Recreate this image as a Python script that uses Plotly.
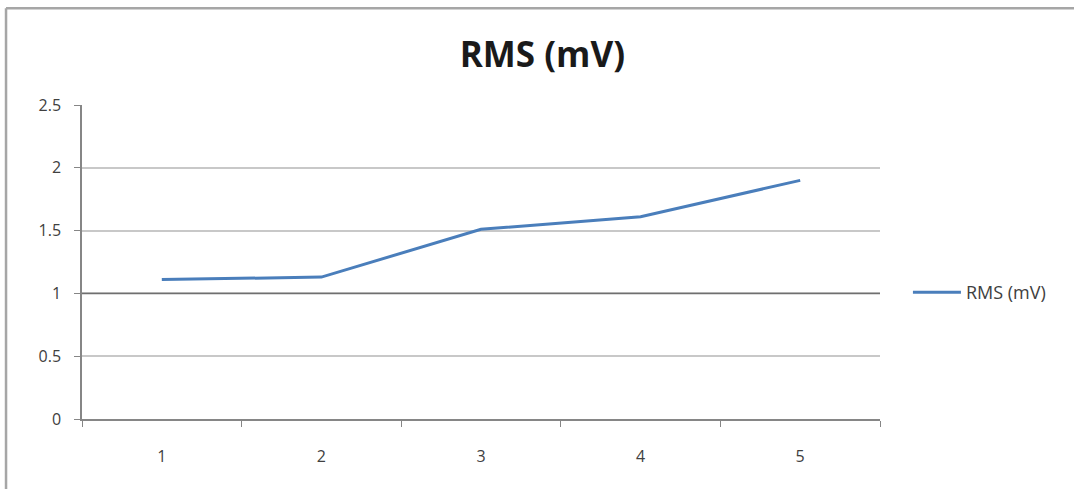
import plotly.graph_objects as go

categories = ["1", "2", "3", "4", "5"]
rms_values = [1.11, 1.13, 1.51, 1.61, 1.90]
y_ticks = [0, 0.5, 1, 1.5, 2, 2.5]
y_tick_labels = ["0", "0.5", "1", "1.5", "2", "2.5"]
series_name = "RMS (mV)"
title_text = "RMS (mV)"

fig = go.Figure()
fig.add_trace(go.Scatter(
    x=categories, y=rms_values, mode="lines", name=series_name,
    line=dict(color="#4a7ebb", width=3),
))

fig.update_layout(
    width=1074, height=489,
    margin=dict(l=82, r=194, t=105, b=70),
    paper_bgcolor="white", plot_bgcolor="white",
    font=dict(family="Open Sans", size=16, color="#404040"),
    title=dict(text="<b>" + title_text + "</b>", x=0.505, xref="container",
               y=0.888, yref="container", yanchor="middle",
               font=dict(family="Open Sans", size=35, color="#1a1a1a")),
    showlegend=True,
    legend=dict(x=1.035, xanchor="left", y=0.403, yanchor="middle",
                font=dict(family="Open Sans", size=18, color="#404040"),
                bgcolor="rgba(0,0,0,0)", itemwidth=48),
    xaxis=dict(type="category", range=[-0.5, 4.5], showgrid=False,
               showline=True, linecolor="#868686", linewidth=1.5,
               ticks="outside", tickson="boundaries", ticklen=6,
               tickcolor="#868686", tickfont=dict(size=16, color="#404040"),
               ticklabelstandoff=22),
    yaxis=dict(range=[0, 2.5], tickvals=y_ticks, ticktext=y_tick_labels,
               showgrid=True, gridcolor="#c8c8c8", gridwidth=1.5,
               showline=True, linecolor="#868686", linewidth=1.5,
               ticks="outside", ticklen=6, tickcolor="#868686",
               tickfont=dict(size=16, color="#404040"), zeroline=False,
               ticklabelstandoff=10),
    shapes=[
        dict(type="line", xref="paper", yref="y", x0=0, x1=1, y0=1, y1=1,
             line=dict(color="#6f6f6f", width=1.5), layer="above"),
        dict(type="line", xref="paper", yref="paper", x0=-0.0952, x1=2.0,
             y0=1.308, y1=1.308, line=dict(color="#a6a6a6", width=2.5)),
        dict(type="line", xref="paper", yref="paper", x0=-0.0952, x1=-0.0952,
             y0=-1.0, y1=1.308, line=dict(color="#a6a6a6", width=2.5)),
    ],
)

fig.write_html(
    "out.html", config={"displayModeBar": False},
    post_script="document.body.style.margin='0px';"
                "document.body.style.overflow='hidden';"
                "document.documentElement.style.overflow='hidden';",
)
